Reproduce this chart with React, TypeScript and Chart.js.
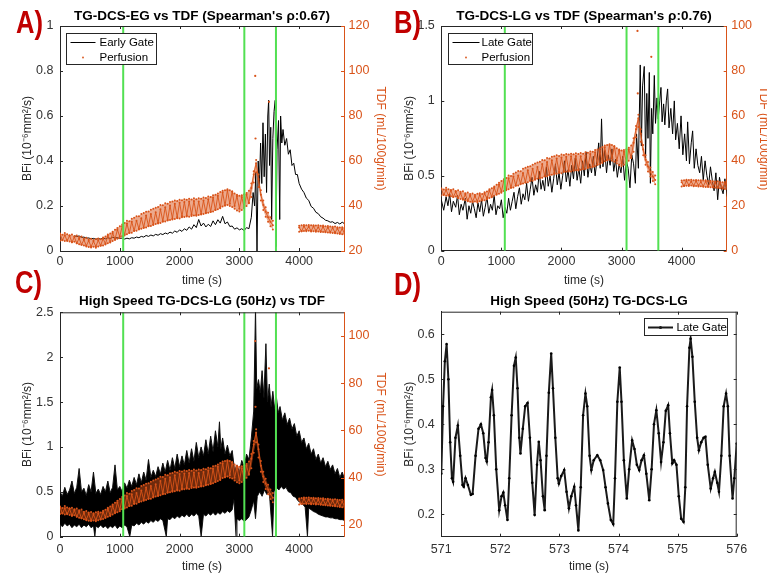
import React, { useEffect, useRef } from 'react';
import { Chart, registerables } from 'chart.js';
Chart.register(...registerables);

const FONT = "'Liberation Sans', Arial, Helvetica, sans-serif";
Chart.defaults.font.family = FONT;

const ORANGE = '#D95319';
const AXIS = '#262626';
const TICKC = '#333333';
const GREEN = '#52E052';
const RED = '#C00000';

// ---------------- data ----------------
const GREEN_LINES = [1057, 3083, 3612];
const X_TICKS_LONG = [0, 1000, 2000, 3000, 4000];
const X_TICKS_D = [571, 572, 573, 574, 575, 576];
const A_Y_TICKS = [0, 0.2, 0.4, 0.6, 0.8, 1];
const A_Y2_TICKS = [20, 40, 60, 80, 100, 120];
const B_Y_TICKS = [0, 0.5, 1, 1.5];
const B_Y2_TICKS = [0, 20, 40, 60, 80, 100];
const C_Y_TICKS = [0, 0.5, 1, 1.5, 2, 2.5];
const C_Y2_TICKS = [20, 40, 60, 80, 100];
const D_Y_TICKS = [0.2, 0.3, 0.4, 0.5, 0.6];

// Perfusion (TDF, mL/100g/min), one value every 40 s from t = 0
const TDF_STEP = 40;
// noisy samples
const TDF: (number | null)[] = [
  27.5, 24.8, 27.0, 24.5, 26.8, 23.9, 26.2, 23.5, 25.6, 22.8,
  25.0, 22.3, 24.6, 21.9, 24.3, 22.0, 24.8, 22.4, 25.5, 23.2,
  26.8, 24.0, 28.0, 25.2, 29.5, 26.4, 31.0, 27.3, 32.2, 28.0,
  33.0, 29.0, 33.5, 29.8, 34.6, 30.5, 35.8, 31.2, 36.5, 31.8,
  37.2, 32.4, 38.6, 33.2, 39.5, 33.8, 40.2, 34.5, 41.0, 35.0,
  41.5, 35.4, 41.8, 35.8, 42.0, 36.2, 42.2, 36.0, 42.0, 36.5,
  42.4, 37.0, 43.0, 37.5, 43.8, 38.2, 44.6, 39.0, 46.0, 40.2,
  47.0, 41.0, 46.5, 40.0, 44.5, 38.8, 44.0, 39.5, 45.0, 41.5,
  48.0, 54.0, 59.0, 52.0, 45.0, 40.5, 37.5, 35.0, 33.0, 31.5,
  null, null, null, null, null, null, null, null, null, null,
  30.5, 28.8, 31.0, 29.2, 30.8, 28.9, 31.0, 29.0, 30.6, 28.7,
  30.8, 28.6, 30.5, 28.4, 30.2, 28.2, 30.0, 28.0, 29.8, 27.9,
];
// upper / lower edge of the scatter band
const TDF_HI: (number | null)[] = [
  27.8, 27.2, 28.0, 27.4, 27.0, 27.3, 26.6, 26.9, 26.2, 26.5,
  25.6, 25.9, 25.2, 25.5, 24.9, 25.3, 25.6, 25.2, 26.0, 26.4,
  27.3, 27.8, 28.6, 29.4, 30.2, 31.0, 31.8, 32.4, 33.5, 33.2,
  34.3, 34.8, 35.5, 35.4, 36.5, 36.9, 37.4, 37.6, 38.3, 38.8,
  39.2, 39.6, 40.4, 40.3, 41.2, 41.0, 41.8, 42.0, 42.5, 42.2,
  42.8, 42.6, 43.0, 42.8, 43.2, 42.9, 43.4, 43.0, 43.5, 43.2,
  43.8, 43.6, 44.2, 44.0, 44.8, 45.0, 45.6, 46.2, 46.8, 47.0,
  47.4, 47.0, 46.5, 45.6, 45.0, 44.6, 44.8, 45.2, 45.8, 46.8,
  50.0, 55.5, 60.5, 54.0, 47.0, 42.5, 39.5, 37.0, 35.0, 33.5,
  null, null, null, null, null, null, null, null, null, null,
  31.2, 31.4, 31.6, 31.5, 31.6, 31.4, 31.5, 31.3, 31.4, 31.2,
  31.3, 31.0, 31.1, 30.9, 30.8, 30.9, 30.6, 30.5, 30.6, 30.3,
];
const TDF_LO: (number | null)[] = [
  24.6, 24.9, 24.4, 24.8, 24.2, 23.9, 24.1, 23.4, 23.0, 22.8,
  22.4, 22.0, 21.8, 21.6, 21.9, 21.5, 22.0, 22.3, 22.5, 22.9,
  23.4, 23.8, 24.4, 24.9, 25.4, 25.8, 26.6, 26.9, 27.4, 28.0,
  28.1, 28.9, 29.0, 29.6, 29.9, 30.2, 30.5, 31.0, 31.1, 31.6,
  32.0, 32.2, 32.5, 33.0, 33.1, 33.6, 33.8, 34.0, 34.2, 34.6,
  34.5, 35.0, 35.1, 35.3, 35.2, 35.6, 35.8, 35.7, 36.0, 36.2,
  36.4, 36.8, 37.0, 37.3, 37.6, 38.2, 38.6, 39.2, 39.8, 40.2,
  40.5, 40.0, 39.6, 38.8, 38.0, 37.6, 38.2, 39.0, 40.0, 41.2,
  44.0, 50.5, 55.0, 48.5, 42.5, 38.2, 35.2, 33.0, 31.0, 29.6,
  null, null, null, null, null, null, null, null, null, null,
  28.6, 28.8, 28.9, 28.8, 29.0, 28.7, 28.8, 28.6, 28.7, 28.5,
  28.4, 28.3, 28.2, 28.1, 28.0, 27.9, 27.8, 27.6, 27.5, 27.4,
];
const TDF_OUTLIERS: [number, number][] = [[3265, 97.8], [3270, 70.0], [3495, 86.3]];

// A: early gate BFi [time s, value]
const A_EARLY_GATE: [number, number][] = [
  [240,0.068],[280,0.064],[320,0.067],[360,0.060],[400,0.062],[440,0.057],[480,0.058],[520,0.054],[560,0.056],[600,0.052],
  [640,0.055],[680,0.053],[720,0.057],[760,0.054],[800,0.059],[840,0.056],[880,0.061],[920,0.057],[960,0.060],[1000,0.055],
  [1040,0.058],[1080,0.053],[1120,0.057],[1160,0.054],[1200,0.059],[1240,0.057],[1280,0.062],[1320,0.059],[1360,0.065],[1400,0.062],
  [1440,0.069],[1480,0.065],[1520,0.071],[1560,0.067],[1600,0.074],[1640,0.070],[1680,0.077],[1720,0.073],[1760,0.080],[1800,0.076],
  [1840,0.084],[1880,0.079],[1920,0.089],[1960,0.083],[2000,0.094],[2040,0.087],[2080,0.099],[2120,0.092],[2160,0.107],[2200,0.097],
  [2240,0.117],[2280,0.104],[2320,0.140],[2360,0.111],[2400,0.124],[2440,0.107],[2480,0.119],[2520,0.109],[2560,0.134],[2600,0.117],
  [2640,0.139],[2680,0.124],[2720,0.154],[2760,0.121],[2800,0.129],[2840,0.109],[2880,0.111],[2920,0.097],[2960,0.103],[3000,0.094],
  [3040,0.099],[3080,0.091],[3120,0.104],[3160,0.099],[3200,0.150],[3230,0.260],[3255,0.200],[3275,0.350],[3295,0.000],[3315,0.400],
  [3335,0.280],[3355,0.480],[3375,0.300],[3395,0.570],[3415,0.330],[3435,0.520],[3455,0.260],[3475,0.600],[3490,0.670],[3505,0.380],
  [3525,0.550],[3540,0.140],[3560,0.500],[3580,0.620],[3600,0.670],[3612,0.020],[3630,0.450],[3655,0.580],[3675,0.140],[3690,0.600],
  [3710,0.480],[3730,0.540],[3760,0.470],[3790,0.500],[3820,0.430],[3850,0.450],[3880,0.380],[3910,0.390],[3940,0.340],[3970,0.340],
  [4000,0.300],[4040,0.275],[4080,0.260],[4120,0.235],[4160,0.225],[4200,0.198],[4240,0.190],[4280,0.172],[4320,0.166],[4360,0.152],
  [4400,0.146],[4440,0.137],[4480,0.134],[4520,0.128],[4560,0.130],[4600,0.122],[4640,0.127],[4680,0.120],[4720,0.128],[4760,0.121],
];

// B: late gate BFi [time s, value]
const B_LATE_GATE: [number, number][] = [
  [0,0.34],[40,0.27],[80,0.36],[110,0.30],[140,0.38],[170,0.26],[200,0.33],[240,0.29],[270,0.37],[300,0.24],
  [330,0.31],[360,0.27],[400,0.35],[430,0.21],[460,0.30],[490,0.25],[520,0.33],[550,0.28],[580,0.22],[610,0.32],
  [640,0.26],[670,0.34],[700,0.23],[730,0.29],[760,0.36],[790,0.25],[820,0.31],[850,0.27],[880,0.37],[910,0.24],
  [940,0.30],[970,0.28],[1000,0.34],[1030,0.22],[1060,0.29],[1090,0.25],[1120,0.35],[1150,0.27],[1180,0.33],[1210,0.39],
  [1240,0.28],[1270,0.36],[1300,0.42],[1330,0.31],[1360,0.38],[1390,0.34],[1420,0.45],[1450,0.33],[1480,0.41],[1510,0.49],
  [1540,0.37],[1570,0.44],[1600,0.39],[1630,0.53],[1660,0.41],[1690,0.47],[1720,0.40],[1750,0.56],[1780,0.43],[1810,0.50],
  [1840,0.39],[1870,0.48],[1900,0.58],[1930,0.44],[1960,0.52],[1990,0.41],[2020,0.50],[2050,0.60],[2080,0.46],[2110,0.54],
  [2140,0.43],[2170,0.57],[2200,0.48],[2230,0.62],[2260,0.47],[2290,0.55],[2320,0.45],[2350,0.60],[2380,0.50],[2410,0.66],
  [2440,0.49],[2470,0.58],[2500,0.52],[2530,0.63],[2560,0.50],[2590,0.60],[2620,0.72],[2645,0.55],[2667,0.88],[2690,0.56],
  [2720,0.67],[2750,0.52],[2780,0.64],[2810,0.57],[2840,0.68],[2870,0.53],[2900,0.61],[2930,0.49],[2960,0.58],[2990,0.52],
  [3020,0.63],[3050,0.47],[3080,0.60],[3110,0.55],[3140,0.42],[3170,0.64],[3200,0.58],[3230,0.45],[3250,0.78],[3280,0.55],
  [3311,1.24],[3330,0.70],[3350,1.10],[3378,1.23],[3400,0.62],[3420,1.05],[3440,0.75],[3462,1.19],[3480,0.45],[3500,0.95],
  [3520,0.78],[3545,1.17],[3565,0.85],[3590,1.02],[3610,0.88],[3635,1.00],[3656,1.09],[3675,0.86],[3700,0.98],[3720,0.84],
  [3745,1.00],[3767,1.08],[3790,0.82],[3820,0.95],[3850,0.78],[3878,1.00],[3900,0.74],[3930,0.85],[3960,0.68],[3990,0.90],
  [4020,0.64],[4050,0.78],[4080,0.60],[4100,0.86],[4130,0.58],[4160,0.72],[4183,0.80],[4210,0.55],[4240,0.68],[4270,0.57],
  [4300,0.52],[4330,0.63],[4360,0.47],[4390,0.60],[4420,0.50],[4450,0.44],[4480,0.56],[4510,0.47],[4540,0.40],[4570,0.52],
  [4600,0.34],[4630,0.49],[4660,0.42],[4690,0.38],[4720,0.48],[4760,0.36],
];

// C: high-speed late gate, upper and lower edge of the dense band [time s, value]
const C_UPPER: [number, number][] = [
  [0,0.50],[40,0.45],[80,0.55],[120,0.47],[160,0.52],[200,0.62],[240,0.48],[280,0.55],[320,0.76],[360,0.50],
  [400,0.54],[440,0.46],[480,0.58],[520,0.50],[560,0.72],[600,0.48],[640,0.53],[680,0.47],[720,0.56],[760,0.50],
  [800,0.62],[840,0.49],[880,0.55],[920,0.80],[960,0.52],[1000,0.56],[1040,0.50],[1080,0.60],[1120,0.54],[1160,0.63],
  [1200,0.56],[1240,0.66],[1280,0.58],[1320,0.70],[1360,0.60],[1400,0.72],[1440,0.63],[1480,0.86],[1520,0.66],[1560,0.74],
  [1600,0.67],[1640,0.78],[1680,0.70],[1720,0.82],[1760,0.72],[1800,0.85],[1840,0.74],[1880,0.88],[1920,0.76],[1960,0.92],
  [2000,0.78],[2040,0.90],[2080,0.80],[2120,0.96],[2160,0.82],[2200,0.98],[2240,0.84],[2280,1.05],[2320,0.88],[2360,1.00],
  [2400,0.90],[2440,1.08],[2480,0.92],[2520,1.12],[2560,0.95],[2600,1.18],[2640,1.00],[2667,1.28],[2690,0.98],[2720,1.10],
  [2760,0.92],[2800,1.02],[2840,0.90],[2880,0.96],[2920,0.74],[2960,0.80],[3000,0.72],[3040,0.85],[3080,0.78],[3120,0.92],
  [3160,0.86],[3200,1.10],[3240,1.40],[3270,2.55],[3290,1.65],[3320,1.75],[3350,1.60],[3380,1.85],[3410,1.55],[3444,2.15],
  [3470,1.50],[3500,1.70],[3530,1.45],[3560,1.62],[3590,1.42],[3620,1.55],[3650,1.38],[3680,1.45],[3720,1.30],[3760,1.38],
  [3800,1.25],[3840,1.32],[3880,1.20],[3920,1.26],[3960,1.12],[4000,1.18],[4040,1.05],[4080,1.10],[4120,0.98],[4160,1.04],
  [4200,0.92],[4240,0.98],[4280,0.86],[4320,0.92],[4360,0.82],[4400,0.88],[4440,0.78],[4480,0.84],[4520,0.75],[4560,0.80],
  [4600,0.70],[4640,0.76],[4680,0.66],[4720,0.72],[4760,0.64],
];
const C_LOWER: [number, number][] = [
  [0,0.14],[40,0.11],[80,0.15],[120,0.12],[160,0.14],[200,0.10],[240,0.13],[280,0.11],[320,0.14],[360,0.10],
  [400,0.13],[440,0.11],[480,0.14],[520,0.10],[560,0.12],[583,0.00],[600,0.12],[640,0.10],[680,0.13],[720,0.10],
  [760,0.12],[800,0.09],[840,0.12],[880,0.10],[920,0.13],[960,0.09],[1000,0.12],[1040,0.10],[1080,0.13],[1120,0.11],
  [1167,0.00],[1200,0.13],[1240,0.12],[1280,0.15],[1320,0.13],[1360,0.16],[1400,0.14],[1440,0.17],[1480,0.15],[1520,0.18],
  [1560,0.16],[1600,0.19],[1640,0.17],[1680,0.20],[1720,0.18],[1778,0.00],[1800,0.20],[1840,0.19],[1880,0.22],[1920,0.20],
  [1960,0.23],[2000,0.21],[2040,0.24],[2080,0.22],[2120,0.25],[2160,0.22],[2200,0.25],[2240,0.23],[2280,0.26],[2320,0.23],
  [2361,0.00],[2400,0.25],[2440,0.23],[2480,0.26],[2520,0.24],[2560,0.27],[2600,0.24],[2640,0.27],[2680,0.25],[2720,0.28],
  [2760,0.26],[2800,0.29],[2840,0.27],[2880,0.30],[2910,0.42],[2944,0.00],[2960,0.20],[3000,0.18],[3040,0.20],[3080,0.17],
  [3120,0.19],[3160,0.22],[3200,0.30],[3240,0.40],[3270,0.20],[3300,0.45],[3340,0.50],[3380,0.45],[3420,0.52],[3460,0.47],
  [3500,0.50],[3555,0.00],[3580,0.50],[3620,0.55],[3660,0.52],[3700,0.56],[3740,0.53],[3780,0.55],[3820,0.50],[3860,0.49],
  [3900,0.45],[3940,0.44],[3980,0.40],[4020,0.38],[4060,0.36],[4100,0.33],[4139,0.00],[4160,0.32],[4200,0.30],[4240,0.28],
  [4280,0.27],[4320,0.25],[4360,0.24],[4400,0.23],[4440,0.22],[4480,0.22],[4520,0.21],[4560,0.21],[4600,0.20],[4640,0.20],
  [4680,0.19],[4720,0.19],[4760,0.18],
];

// D: 50 Hz late gate, 571-576 s [time s, value]
const D_LATE_GATE: [number, number][] = [
  [571.00,0.290],[571.03,0.440],[571.06,0.540],[571.09,0.578],[571.12,0.500],[571.15,0.360],[571.18,0.280],[571.20,0.272],[571.24,0.370],[571.28,0.397],
  [571.32,0.330],[571.36,0.265],[571.38,0.261],[571.41,0.280],[571.45,0.265],[571.50,0.243],[571.53,0.245],[571.58,0.330],[571.63,0.390],[571.67,0.400],
  [571.71,0.380],[571.75,0.325],[571.77,0.317],[571.80,0.360],[571.84,0.460],[571.86,0.476],[571.89,0.420],[571.93,0.300],[571.98,0.209],[572.02,0.240],
  [572.05,0.248],[572.08,0.220],[572.12,0.187],[572.15,0.280],[572.19,0.420],[572.23,0.530],[572.26,0.548],[572.29,0.480],[572.32,0.370],[572.34,0.335],
  [572.38,0.390],[572.42,0.440],[572.46,0.447],[572.50,0.370],[572.54,0.270],[572.58,0.198],[572.62,0.310],[572.65,0.361],[572.68,0.320],[572.72,0.240],
  [572.75,0.209],[572.78,0.330],[572.82,0.470],[572.86,0.557],[572.89,0.480],[572.93,0.370],[572.97,0.280],[572.99,0.268],[573.03,0.285],[573.08,0.298],
  [573.12,0.250],[573.16,0.213],[573.20,0.240],[573.25,0.261],[573.28,0.220],[573.32,0.164],[573.36,0.260],[573.40,0.420],[573.44,0.468],[573.47,0.440],
  [573.51,0.330],[573.54,0.298],[573.58,0.320],[573.64,0.331],[573.69,0.320],[573.74,0.298],[573.78,0.260],[573.82,0.224],[573.87,0.187],[573.91,0.178],
  [573.94,0.280],[573.98,0.450],[574.02,0.526],[574.05,0.450],[574.09,0.320],[574.14,0.235],[574.18,0.300],[574.23,0.364],[574.27,0.345],[574.31,0.310],
  [574.35,0.298],[574.39,0.320],[574.43,0.331],[574.47,0.290],[574.52,0.231],[574.56,0.300],[574.60,0.400],[574.64,0.431],[574.68,0.380],[574.72,0.316],
  [574.76,0.360],[574.80,0.430],[574.84,0.442],[574.87,0.380],[574.91,0.313],[574.94,0.320],[574.98,0.310],[575.02,0.240],[575.06,0.190],[575.10,0.183],
  [575.13,0.260],[575.16,0.440],[575.20,0.570],[575.22,0.590],[575.25,0.550],[575.29,0.450],[575.33,0.370],[575.36,0.342],[575.40,0.360],[575.44,0.370],
  [575.47,0.372],[575.51,0.310],[575.56,0.257],[575.60,0.280],[575.63,0.294],[575.67,0.270],[575.70,0.250],[575.74,0.330],[575.78,0.440],[575.82,0.468],
  [575.85,0.440],[575.88,0.330],[575.93,0.235],[575.96,0.280],[576.00,0.357],
];

// ---------------- helpers ----------------
const pairsXY = (p: [number, number][]) => p.map(([x, y]) => ({ x, y }));
const stepXY = (step: number, v: (number | null)[]) => v.map((y, i) => ({ x: i * step, y }));
const fmt = (v: any) => String(+Number(v).toFixed(3));

const AX_TITLE_SIZE = 12;
const HALF = (AX_TITLE_SIZE * 1.2) / 2;
const TICK_SIZE = 12.5;
const TL = 3;

type Geo = {
  canvas: { x: number; y: number; w: number; h: number };
  plot: { l: number; t: number; r: number; b: number };
  leftTitleX: number;
  rightTitleX?: number;
  bottomTitleY: number;
  xTickPad: number;
};

type LegendItem = { label: string; kind: 'line' | 'dot' | 'linemarker'; color: string };
type LegendCfg = { anchor: 'left' | 'right'; dx: number; dy: number; w: number; h: number; sx0: number; sx1: number; tx: number; y0: number; rowH: number; items: LegendItem[] };

type PanelCfg = {
  key: string;
  geo: Geo;
  title: string;
  titleDy: number;
  xMin: number; xMax: number; xTicks: number[];
  yMin: number; yMax: number; yTicks: number[];
  y2?: { min: number; max: number; ticks: number[] };
  datasets: any[];
  legend: LegendCfg;
};

function layoutFor(g: Geo) {
  const padLeft = g.leftTitleX - HALF - g.canvas.x;
  const yW = g.plot.l - g.canvas.x - padLeft;
  let padRight: number, y2W = 0;
  if (g.rightTitleX != null) {
    const sr = g.rightTitleX + HALF - g.canvas.x;
    padRight = g.canvas.w - sr;
    y2W = sr - (g.plot.r - g.canvas.x);
  } else {
    padRight = g.canvas.w - (g.plot.r - g.canvas.x);
  }
  const sb = g.bottomTitleY + HALF - g.canvas.y;
  const padBottom = g.canvas.h - sb;
  const xH = sb - (g.plot.b - g.canvas.y);
  const padTop = g.plot.t - g.canvas.y;
  return { padLeft, padRight, padTop, padBottom, yW, y2W, xH };
}

function seg(ctx: CanvasRenderingContext2D, x1: number, y1: number, x2: number, y2: number) {
  ctx.beginPath();
  ctx.moveTo(x1, y1);
  ctx.lineTo(x2, y2);
  ctx.stroke();
}

function decor(cfg: PanelCfg) {
  return {
    id: 'decor' + cfg.key,
    afterDraw(chart: any) {
      const ctx: CanvasRenderingContext2D = chart.ctx;
      const a = chart.chartArea;
      const hasRight = !!cfg.y2;
      ctx.save();
      ctx.lineWidth = 1;
      ctx.strokeStyle = AXIS;
      seg(ctx, a.left, a.top + 0.5, a.right, a.top + 0.5);
      if (!hasRight) seg(ctx, a.right - 0.5, a.top, a.right - 0.5, a.bottom);
      const xs = chart.scales.x;
      xs.ticks.forEach((t: any) => {
        const px = Math.round(xs.getPixelForValue(t.value)) + 0.5;
        seg(ctx, px, a.bottom, px, a.bottom - TL);
        seg(ctx, px, a.top, px, a.top + TL);
      });
      const ys = chart.scales.y;
      ys.ticks.forEach((t: any) => {
        const py = Math.round(ys.getPixelForValue(t.value)) + 0.5;
        seg(ctx, a.left, py, a.left + TL, py);
        if (!hasRight) seg(ctx, a.right, py, a.right - TL, py);
      });
      if (hasRight) {
        const y2 = chart.scales.y2;
        ctx.strokeStyle = ORANGE;
        y2.ticks.forEach((t: any) => {
          const py = Math.round(y2.getPixelForValue(t.value)) + 0.5;
          seg(ctx, a.right, py, a.right - TL, py);
        });
      }
      // title
      ctx.fillStyle = '#000';
      ctx.font = `bold 13.5px ${FONT}`;
      ctx.textAlign = 'center';
      ctx.textBaseline = 'middle';
      ctx.fillText(cfg.title, (a.left + a.right) / 2, a.top - cfg.titleDy);
      // legend
      const L = cfg.legend;
      if (L.items.length) {
        const bx = Math.round(L.anchor === 'left' ? a.left + L.dx : a.right - L.dx - L.w) + 0.5;
        const by = Math.round(a.top + L.dy) + 0.5;
        ctx.fillStyle = '#fff';
        ctx.fillRect(bx, by, L.w, L.h);
        ctx.strokeStyle = AXIS;
        ctx.lineWidth = 1;
        ctx.strokeRect(bx, by, L.w, L.h);
        ctx.font = `11.5px ${FONT}`;
        ctx.textAlign = 'left';
        L.items.forEach((it, i) => {
          const cy = by + L.y0 + i * L.rowH;
          ctx.strokeStyle = it.color;
          ctx.fillStyle = it.color;
          if (it.kind === 'line' || it.kind === 'linemarker') {
            ctx.lineWidth = it.kind === 'linemarker' ? 2 : 1;
            seg(ctx, bx + L.sx0, cy, bx + L.sx1, cy);
            if (it.kind === 'linemarker') {
              ctx.beginPath();
              ctx.arc(bx + (L.sx0 + L.sx1) / 2, cy, 1.6, 0, Math.PI * 2);
              ctx.fill();
            }
          } else {
            ctx.beginPath();
            ctx.arc(bx + (L.sx0 + L.sx1) / 2, cy, 0.9, 0, Math.PI * 2);
            ctx.fill();
          }
          ctx.fillStyle = '#000';
          ctx.fillText(it.label, bx + L.tx, cy + 0.5);
        });
      }
      ctx.restore();
    },
  };
}

function buildConfig(cfg: PanelCfg): any {
  const L = layoutFor(cfg.geo);
  const tickList = (arr: number[]) => (s: any) => {
    s.ticks = arr.map((v) => ({ value: v }));
  };
  const scales: any = {
    x: {
      type: 'linear',
      min: cfg.xMin,
      max: cfg.xMax,
      afterBuildTicks: tickList(cfg.xTicks),
      afterFit: (s: any) => { s.height = L.xH; },
      grid: { display: false, drawTicks: false },
      border: { display: true, color: AXIS, width: 1 },
      ticks: { color: TICKC, font: { size: TICK_SIZE }, padding: cfg.geo.xTickPad, maxRotation: 0, autoSkip: false, callback: (v: any) => fmt(v) },
      title: { display: true, text: 'time (s)', color: AXIS, font: { size: AX_TITLE_SIZE, lineHeight: 1.2 }, padding: 0 },
    },
    y: {
      type: 'linear',
      position: 'left',
      min: cfg.yMin,
      max: cfg.yMax,
      afterBuildTicks: tickList(cfg.yTicks),
      afterFit: (s: any) => { s.width = L.yW; },
      grid: { display: false, drawTicks: false },
      border: { display: true, color: AXIS, width: 1 },
      ticks: { color: TICKC, font: { size: TICK_SIZE }, padding: 6.5, autoSkip: false, callback: (v: any) => fmt(v) },
      title: { display: true, text: 'BFi (10⁻⁶mm²/s)', color: AXIS, font: { size: AX_TITLE_SIZE, lineHeight: 1.2 }, padding: 0 },
    },
  };
  if (cfg.y2) {
    scales.y2 = {
      type: 'linear',
      position: 'right',
      min: cfg.y2.min,
      max: cfg.y2.max,
      afterBuildTicks: tickList(cfg.y2.ticks),
      afterFit: (s: any) => { s.width = L.y2W; },
      grid: { display: false, drawTicks: false },
      border: { display: true, color: ORANGE, width: 1 },
      ticks: { color: ORANGE, font: { size: TICK_SIZE }, padding: 4.5, autoSkip: false, callback: (v: any) => fmt(v) },
      title: { display: true, text: 'TDF (mL/100g/min)', color: ORANGE, font: { size: AX_TITLE_SIZE, lineHeight: 1.2 }, padding: 0 },
    };
  }
  return {
    type: 'line',
    data: { datasets: cfg.datasets },
    options: {
      responsive: false,
      animation: false,
      events: [],
      layout: { padding: { left: L.padLeft, right: L.padRight, top: L.padTop, bottom: L.padBottom } },
      plugins: { legend: { display: false }, tooltip: { enabled: false }, title: { display: false } },
      scales,
    },
    plugins: [decor(cfg)],
  };
}

function greenSets(yMin: number, yMax: number) {
  return GREEN_LINES.map((g) => ({
    data: [{ x: g, y: yMin }, { x: g, y: yMax }],
    yAxisID: 'y',
    borderColor: GREEN,
    borderWidth: 2,
    pointRadius: 0,
    order: 0,
  }));
}

// band of the perfusion scatter (upper edge fills to the lower edge, the next dataset) + noisy samples on top
function tdfSets() {
  return [
    {
      data: stepXY(TDF_STEP, TDF),
      yAxisID: 'y2',
      borderColor: ORANGE,
      borderWidth: 0.9,
      pointRadius: 1,
      pointBorderWidth: 0,
      pointBackgroundColor: ORANGE,
      spanGaps: false,
      order: 1,
    },
    {
      data: stepXY(TDF_STEP, TDF_HI),
      yAxisID: 'y2',
      borderWidth: 0,
      backgroundColor: 'rgba(217,83,25,0.5)',
      fill: '+1',
      pointRadius: 1,
      pointBorderWidth: 0,
      pointBackgroundColor: ORANGE,
      spanGaps: false,
      order: 1.5,
    },
    {
      data: stepXY(TDF_STEP, TDF_LO),
      yAxisID: 'y2',
      borderWidth: 0,
      pointRadius: 1,
      pointBorderWidth: 0,
      pointBackgroundColor: ORANGE,
      spanGaps: false,
      order: 1.5,
    },
    {
      data: pairsXY(TDF_OUTLIERS),
      yAxisID: 'y2',
      showLine: false,
      pointRadius: 1.1,
      pointBorderWidth: 0,
      pointBackgroundColor: ORANGE,
      order: 1,
    },
  ];
}

const PANELS: PanelCfg[] = [
  {
    key: 'A',
    geo: { canvas: { x: 0, y: 0, w: 400, h: 310 }, plot: { l: 60, t: 26, r: 344, b: 251 }, leftTitleX: 28, rightTitleX: 380, bottomTitleY: 281, xTickPad: 3 },
    title: "TG-DCS-EG vs TDF (Spearman's ρ:0.67)",
    titleDy: 10,
    xMin: 0, xMax: 4750, xTicks: X_TICKS_LONG,
    yMin: 0, yMax: 1, yTicks: A_Y_TICKS,
    y2: { min: 20, max: 120, ticks: A_Y2_TICKS },
    datasets: [
      ...greenSets(0, 1),
      ...tdfSets(),
      { data: pairsXY(A_EARLY_GATE), yAxisID: 'y', borderColor: '#000', borderWidth: 1, pointRadius: 0, order: 2 },
    ],
    legend: { anchor: 'left', dx: 6, dy: 7, w: 90, h: 31, sx0: 4, sx1: 29, tx: 33, y0: 9, rowH: 15,
      items: [{ label: 'Early Gate', kind: 'line', color: '#000' }, { label: 'Perfusion', kind: 'dot', color: ORANGE }] },
  },
  {
    key: 'B',
    geo: { canvas: { x: 384, y: 0, w: 400, h: 310 }, plot: { l: 441.3, t: 26, r: 726.7, b: 250.7 }, leftTitleX: 410, rightTitleX: 763, bottomTitleY: 281, xTickPad: 3 },
    title: "TG-DCS-LG vs TDF (Spearman's ρ:0.76)",
    titleDy: 10,
    xMin: 0, xMax: 4750, xTicks: X_TICKS_LONG,
    yMin: 0, yMax: 1.5, yTicks: B_Y_TICKS,
    y2: { min: 0, max: 100, ticks: B_Y2_TICKS },
    datasets: [
      ...greenSets(0, 1.5),
      ...tdfSets(),
      { data: pairsXY(B_LATE_GATE), yAxisID: 'y', borderColor: '#000', borderWidth: 1, pointRadius: 0, order: 2 },
    ],
    legend: { anchor: 'left', dx: 7, dy: 7, w: 84, h: 31, sx0: 4, sx1: 31, tx: 33, y0: 9, rowH: 15,
      items: [{ label: 'Late Gate', kind: 'line', color: '#000' }, { label: 'Perfusion', kind: 'dot', color: ORANGE }] },
  },
  {
    key: 'C',
    geo: { canvas: { x: 0, y: 280, w: 400, h: 310 }, plot: { l: 60, t: 312.3, r: 344, b: 536.7 }, leftTitleX: 28, rightTitleX: 380, bottomTitleY: 567, xTickPad: 5 },
    title: 'High Speed TG-DCS-LG (50Hz) vs TDF',
    titleDy: 11,
    xMin: 0, xMax: 4750, xTicks: X_TICKS_LONG,
    yMin: 0, yMax: 2.5, yTicks: C_Y_TICKS,
    y2: { min: 15, max: 110, ticks: C_Y2_TICKS },
    datasets: [
      ...greenSets(0, 2.5),
      ...tdfSets(),
      { data: pairsXY(C_UPPER), yAxisID: 'y', borderColor: '#111', backgroundColor: '#000', borderWidth: 1, pointRadius: 0, fill: '+1', order: 2 },
      { data: pairsXY(C_LOWER), yAxisID: 'y', borderColor: '#222', borderWidth: 1, pointRadius: 0, order: 3 },
    ],
    legend: { anchor: 'left', dx: 0, dy: 0, w: 0, h: 0, sx0: 0, sx1: 0, tx: 0, y0: 0, rowH: 0, items: [] },
  },
  {
    key: 'D',
    geo: { canvas: { x: 384, y: 280, w: 400, h: 310 }, plot: { l: 441.3, t: 311.7, r: 736.7, b: 536.7 }, leftTitleX: 410, bottomTitleY: 567, xTickPad: 5 },
    title: 'High Speed (50Hz) TG-DCS-LG',
    titleDy: 10.5,
    xMin: 571, xMax: 576, xTicks: X_TICKS_D,
    yMin: 0.15, yMax: 0.65, yTicks: D_Y_TICKS,
    datasets: [
      { data: pairsXY(D_LATE_GATE), yAxisID: 'y', borderColor: '#1a1a1a', borderWidth: 2, pointRadius: 1.3, pointBorderWidth: 0, pointBackgroundColor: '#000', order: 0 },
    ],
    legend: { anchor: 'right', dx: 9.4, dy: 6.6, w: 83, h: 17, sx0: 3.5, sx1: 28.5, tx: 32, y0: 9, rowH: 0,
      items: [{ label: 'Late Gate', kind: 'linemarker', color: '#1a1a1a' }] },
  },
];

function Panel({ cfg }: { cfg: PanelCfg }) {
  const ref = useRef<HTMLCanvasElement>(null);
  useEffect(() => {
    const chart = new Chart(ref.current as HTMLCanvasElement, buildConfig(cfg));
    return () => chart.destroy();
  }, [cfg]);
  const c = cfg.geo.canvas;
  return (
    <canvas
      ref={ref}
      width={c.w}
      height={c.h}
      style={{ position: 'absolute', left: c.x, top: c.y, width: c.w, height: c.h }}
    />
  );
}

const PANEL_LABELS = [
  { text: 'A)', x: 16, y: 6 },
  { text: 'B)', x: 394, y: 6 },
  { text: 'C)', x: 15, y: 266 },
  { text: 'D)', x: 394, y: 268 },
];

export default function App() {
  return (
    <div style={{ position: 'fixed', left: 0, top: 0, width: 767, height: 577, overflow: 'hidden', background: '#fff' }}>
      {PANELS.map((p) => (
        <Panel key={p.key} cfg={p} />
      ))}
      {PANEL_LABELS.map((l) => (
        <div
          key={l.text}
          style={{
            position: 'absolute',
            left: l.x,
            top: l.y,
            fontFamily: FONT,
            fontWeight: 'bold',
            fontSize: 32,
            lineHeight: '32px',
            color: RED,
            transform: 'scaleX(0.8)',
            transformOrigin: 'left top',
            whiteSpace: 'nowrap',
          }}
        >
          {l.text}
        </div>
      ))}
    </div>
  );
}
